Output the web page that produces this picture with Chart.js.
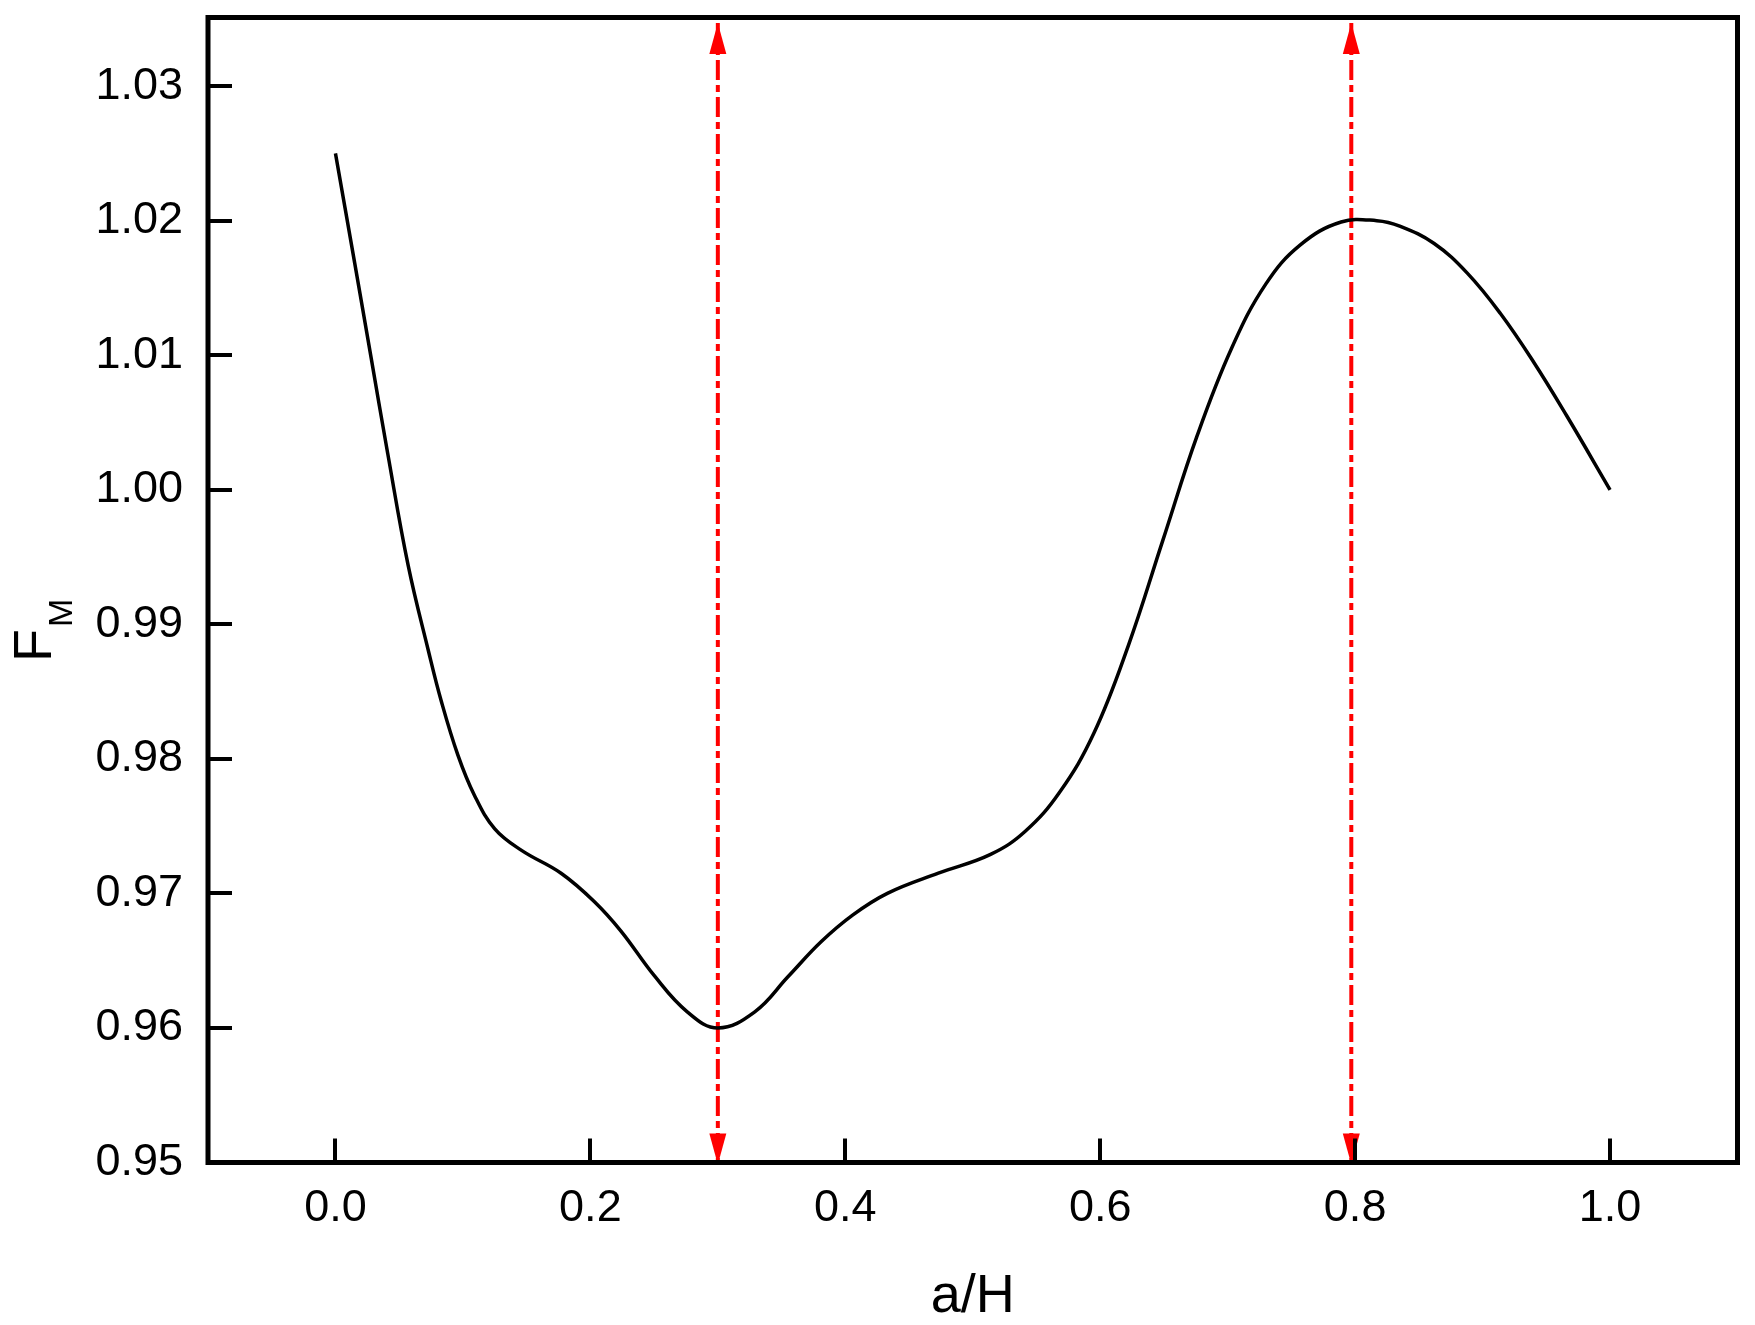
<!DOCTYPE html>
<html>
<head>
<meta charset="utf-8">
<title>F_M vs a/H</title>
<script src="https://cdn.jsdelivr.net/npm/chart.js@4.4.0/dist/chart.umd.min.js"></script>
<style>
  html, body { margin: 0; padding: 0; background: #fff; }
  canvas { display: block; }
</style>
</head>
<body>
<canvas id="mainChart" width="1755" height="1325"></canvas>
<script>
// --- Data ---
const aH = [0, 0.015, 0.028, 0.041, 0.057, 0.073, 0.083, 0.096, 0.109, 0.125, 0.146, 0.177,
  0.203, 0.224, 0.250, 0.276, 0.300, 0.329, 0.355, 0.381, 0.406, 0.433, 0.473, 0.514,
  0.541, 0.568, 0.595, 0.622, 0.649, 0.676, 0.703, 0.730, 0.757, 0.789, 0.817, 0.835,
  0.862, 0.888, 0.914, 0.940, 0.966, 1.0];
const FM = [1.0250, 1.0169, 1.0098, 1.0027, 0.9944, 0.9880, 0.9843, 0.9803, 0.9773, 0.9748, 0.9732, 0.9715,
  0.9694, 0.9672, 0.9639, 0.9612, 0.9600, 0.9612, 0.9638, 0.9664, 0.9684, 0.9700, 0.9715, 0.9729,
  0.9746, 0.9775, 0.9819, 0.9884, 0.9962, 1.0040, 1.0105, 1.0153, 1.0182, 1.0199, 1.0200, 1.0196,
  1.0183, 1.0161, 1.0131, 1.0095, 1.0055, 1.0000];

// vertical double arrows (x positions) and their vertical extent
const arrowX = [0.3, 0.797];
const arrowY = [1.0347, 0.95];

const xTicks = [0.0, 0.2, 0.4, 0.6, 0.8, 1.0];
const yTicks = [0.95, 0.96, 0.97, 0.98, 0.99, 1.00, 1.01, 1.02, 1.03];

const FONT = '"Liberation Sans", Arial, sans-serif';
const RED = '#ff0000';

// --- Plugin: frame, inward ticks, arrowheads, axis titles ---
const framePlugin = {
  id: 'frame',
  afterDatasetsDraw(chart) {
    const { ctx, chartArea: a, scales } = chart;
    const xs = scales.x, ys = scales.y;
    ctx.save();

    // arrowheads on the red lines
    ctx.fillStyle = RED;
    arrowX.forEach(v => {
      const px = xs.getPixelForValue(v);
      const top = ys.getPixelForValue(arrowY[0]);
      const bot = ys.getPixelForValue(arrowY[1]) + 2;
      ctx.beginPath();
      ctx.moveTo(px, top);
      ctx.lineTo(px - 8.5, top + 31);
      ctx.lineTo(px + 8.5, top + 31);
      ctx.closePath();
      ctx.fill();
      ctx.beginPath();
      ctx.moveTo(px, bot);
      ctx.lineTo(px - 8.5, bot - 31);
      ctx.lineTo(px + 8.5, bot - 31);
      ctx.closePath();
      ctx.fill();
    });

    // inward ticks
    ctx.strokeStyle = '#000';
    ctx.lineWidth = 4;
    ctx.lineCap = 'butt';
    const tickLen = 24;
    xTicks.forEach(v => {
      const px = Math.round(xs.getPixelForValue(v));
      ctx.beginPath();
      ctx.moveTo(px, a.bottom);
      ctx.lineTo(px, a.bottom - tickLen);
      ctx.stroke();
    });
    yTicks.forEach(v => {
      const py = Math.round(ys.getPixelForValue(v));
      ctx.beginPath();
      ctx.moveTo(a.left, py);
      ctx.lineTo(a.left + tickLen, py);
      ctx.stroke();
    });

    // frame
    ctx.lineWidth = 5;
    ctx.lineJoin = 'miter';
    ctx.strokeRect(a.left, a.top, a.right - a.left, a.bottom - a.top);

    // x title
    ctx.fillStyle = '#000';
    ctx.font = '54px ' + FONT;
    ctx.textAlign = 'center';
    ctx.textBaseline = 'alphabetic';
    ctx.fillText('a/H', (a.left + a.right) / 2, 1312);

    // y title F with subscript M
    ctx.translate(51, 662);
    ctx.rotate(-Math.PI / 2);
    ctx.textAlign = 'left';
    ctx.font = '54px ' + FONT;
    ctx.fillText('F', 0, 0);
    const wF = ctx.measureText('F').width;
    ctx.font = '34px ' + FONT;
    ctx.fillText('M', wF + 2, 21);

    ctx.restore();
  }
};

// --- Datasets ---
const curve = aH.map((x, i) => ({ x, y: FM[i] }));
const datasets = [{
  label: 'F_M',
  data: curve,
  borderColor: '#000',
  borderWidth: 3.5,
  pointRadius: 0,
  fill: false,
  tension: 0.4
}];
arrowX.forEach(v => {
  datasets.push({
    label: 'arrow ' + v,
    data: arrowY.map(y => ({ x: v, y })),
    borderColor: RED,
    borderWidth: 4,
    borderDash: [20, 5, 7, 5],
    pointRadius: 0,
    fill: false,
    tension: 0
  });
});

new Chart(document.getElementById('mainChart').getContext('2d'), {
  type: 'line',
  data: { datasets },
  options: {
    responsive: false,
    animation: false,
    devicePixelRatio: 1,
    layout: { padding: { top: 17.5, right: 17.5, left: 0, bottom: 0 } },
    plugins: {
      legend: { display: false },
      tooltip: { enabled: false }
    },
    scales: {
      x: {
        type: 'linear',
        min: -0.1,
        max: 1.1,
        afterFit: s => { s.height = 162.5; s.paddingLeft = 0; s.paddingRight = 0; },
        afterBuildTicks: s => { s.ticks = xTicks.map(value => ({ value })); },
        grid: { display: false, drawTicks: false },
        border: { display: false },
        ticks: {
          padding: 19,
          color: '#000',
          font: { family: FONT, size: 45 },
          maxRotation: 0,
          callback: v => v.toFixed(1)
        }
      },
      y: {
        type: 'linear',
        min: 0.95,
        max: 1.0351,
        afterFit: s => { s.width = 208; s.paddingTop = 0; s.paddingBottom = 0; },
        afterBuildTicks: s => { s.ticks = yTicks.map(value => ({ value })); },
        grid: { display: false, drawTicks: false },
        border: { display: false },
        ticks: {
          padding: 25,
          color: '#000',
          font: { family: FONT, size: 45 },
          callback: v => v.toFixed(2)
        }
      }
    }
  },
  plugins: [framePlugin]
});
</script>
</body>
</html>
